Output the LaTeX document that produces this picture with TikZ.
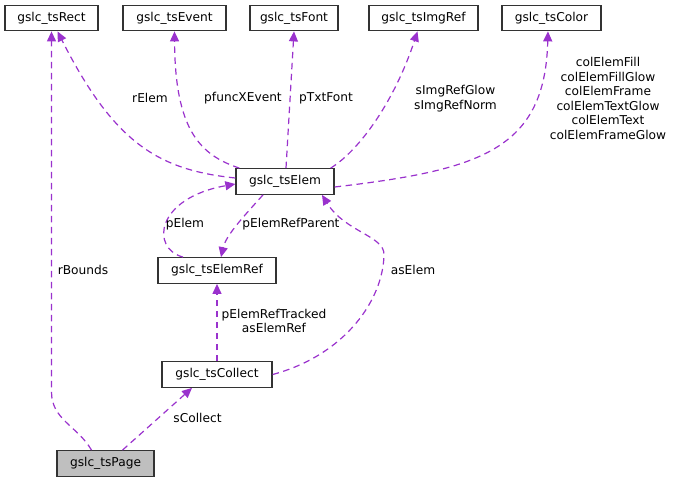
\documentclass[tikz,border=0pt]{standalone}
\usepackage{fontspec}
\setmainfont{DejaVu Sans}
\usetikzlibrary{arrows.meta}
\definecolor{edgepurple}{RGB}{154,50,205}
\definecolor{boxgray}{RGB}{191,191,191}

\begin{document}
\begin{tikzpicture}[x=1pt, y=-1pt, every node/.style={font=\fontsize{12.2}{14.5}\selectfont},
    cls/.style={draw=black!80, fill=white, line width=1.3pt, inner sep=0pt, minimum height=25.5pt},
    dep/.style={draw=edgepurple, line width=1.2pt, dash pattern=on 6.5pt off 4.5pt, -{Triangle[length=10pt, width=9pt]}, fill=none},
    lbl/.style={align=center, inner sep=0pt}]
    \useasboundingbox (0,0) rectangle (675,483);
    \node[cls, minimum width=93pt] (rect) at (51.5,18) {gslc\_tsRect};
    \node[cls, minimum width=103pt] (event) at (174.5,18) {gslc\_tsEvent};
    \node[cls, minimum width=88pt] (font) at (294,18) {gslc\_tsFont};
    \node[cls, minimum width=109pt] (imgref) at (423.5,18) {gslc\_tsImgRef};
    \node[cls, minimum width=99pt] (color) at (551.5,18) {gslc\_tsColor};
    \node[cls, minimum width=98pt] (elem) at (285,181.5) {gslc\_tsElem};
    \node[cls, minimum width=118pt] (elemref) at (217,270.5) {gslc\_tsElemRef};
    \node[cls, minimum width=110pt] (collect) at (217,374.5) {gslc\_tsCollect};
    \node[cls, minimum width=97pt, fill=boxgray] (page) at (105.5,463.5) {gslc\_tsPage};

    \draw[dep] ([xshift=-14pt]page.north) to[out=120, in=-90] (rect.south |- 52,392) -- (rect.south);
    \draw[dep] ([xshift=17pt]page.north) -- ([xshift=-25pt]collect.south);
    \draw[dep] (collect.north) -- (elemref.south);
    \draw[dep] (collect.east) .. controls (345,355) and (383,300) .. (384,255) .. controls (385,236) and (345,232) .. ([xshift=37pt]elem.south);
    \draw[dep] ([xshift=-34pt]elemref.north) .. controls (150,248) and (156,198) .. ([yshift=-2.5pt]elem.west);
    \draw[dep] ([xshift=-22pt]elem.south) .. controls (245,215) and (226,235) .. ([xshift=4pt]elemref.north);
    \draw[dep] ([yshift=3.5pt]elem.west) .. controls (160,170) and (115,145) .. ([xshift=6pt]rect.south);
    \draw[dep] ([xshift=4pt]elem.north west) .. controls (200,155) and (175,130) .. (event.south);
    \draw[dep] ([xshift=1pt]elem.north) -- (font.south);
    \draw[dep] ([xshift=-4pt]elem.north east) .. controls (360,150) and (395,100) .. ([xshift=-6pt]imgref.south);
    \draw[dep] ([yshift=-5.5pt]elem.east) .. controls (480,170) and (545,150) .. ([xshift=-3.5pt]color.south);

    \node[lbl] (lrbounds) at (83,270) {rBounds};
    \node[lbl] (lscollect) at (197.5,418) {sCollect};
    \node[lbl] (ltracked) at (274,321) {pElemRefTracked\\asElemRef};
    \node[lbl] (laselem) at (413,270) {asElem};
    \node[lbl] (lpelem) at (185,224) {pElem};
    \node[lbl] (lparent) at (291,224) {pElemRefParent};
    \node[lbl] (lrelem) at (150,98) {rElem};
    \node[lbl] (lxevent) at (243,98) {pfuncXEvent};
    \node[lbl] (ltxtfont) at (326,98) {pTxtFont};
    \node[lbl] (limgref) at (455.5,98.5) {sImgRefGlow\\sImgRefNorm};
    \node[lbl] (lcolors) at (608,98.5) {colElemFill\\colElemFillGlow\\colElemFrame\\colElemTextGlow\\colElemText\\colElemFrameGlow};
\end{tikzpicture}
\end{document}
